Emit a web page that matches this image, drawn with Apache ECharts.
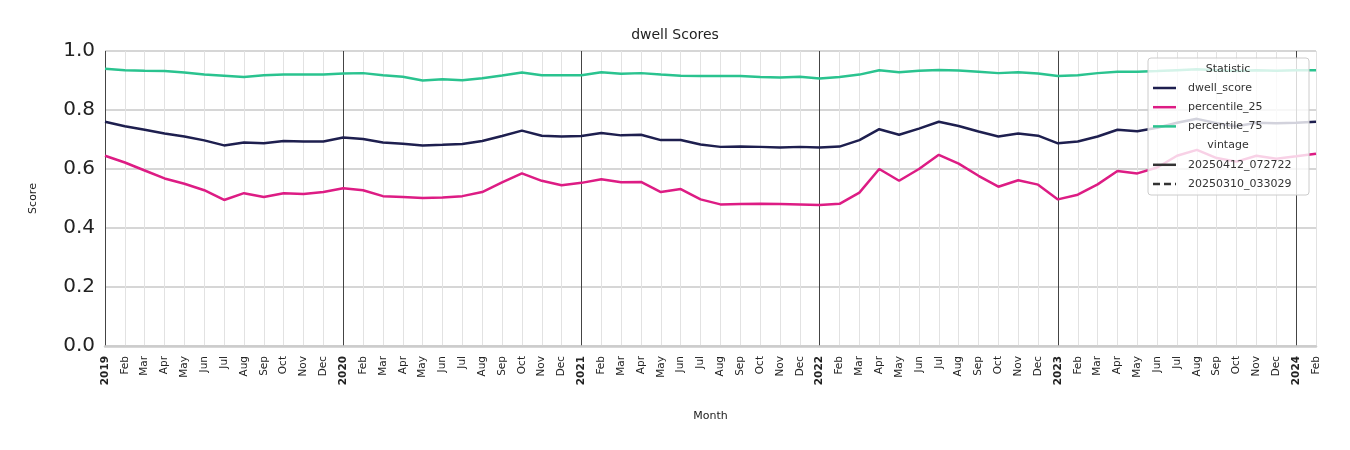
<!DOCTYPE html>
<html><head><meta charset="utf-8">
<script src="https://cdn.jsdelivr.net/npm/echarts@6/dist/echarts.min.js"></script>
<style>body{margin:0}#c{width:1350px;height:450px}</style></head>
<body><div id="c"></div>
<script>
const monthNames=['Jan','Feb','Mar','Apr','May','Jun','Jul','Aug','Sep','Oct','Nov','Dec'];
const categories=[];
for(let y=2019;y<=2024;y++)for(let m=0;m<12;m++){if(y===2024&&m>1)break;categories.push(m===0?String(y):monthNames[m]);}
const dwellScore=[.76,.745,.733,.72,.71,.697,.68,.69,.687,.695,.693,.693,
.707,.702,.69,.686,.68,.682,.685,.695,.712,.73,.713,.71,
.712,.722,.714,.716,.698,.698,.683,.675,.676,.675,.673,.675,
.673,.676,.698,.735,.716,.737,.76,.746,.727,.71,.72,.713,
.687,.693,.71,.733,.728,.74,.757,.77,.755,.745,.757,.755,
.757,.76];
const percentile25=[.645,.622,.595,.568,.55,.528,.495,.518,.505,.518,.515,.522,
.535,.528,.508,.505,.502,.503,.508,.522,.555,.585,.56,.545,
.553,.565,.555,.556,.522,.532,.497,.48,.481,.482,.481,.48,
.478,.482,.52,.6,.56,.6,.648,.618,.577,.54,.562,.547,
.497,.513,.548,.593,.585,.605,.645,.665,.637,.625,.645,.635,
.643,.652];
const percentile75=[.94,.935,.933,.932,.927,.92,.916,.912,.918,.92,.92,.92,
.924,.925,.918,.913,.9,.904,.901,.908,.917,.927,.918,.918,
.918,.928,.923,.925,.92,.916,.915,.915,.915,.912,.91,.913,
.907,.912,.92,.935,.928,.933,.936,.934,.93,.925,.928,.924,
.915,.918,.925,.93,.93,.932,.935,.938,.935,.932,.935,.933,
.935,.935];
const yTicks=['0.0','0.2','0.4','0.6','0.8','1.0'];
const colors={dwell:'#1e1f4f',p25:'#dd1c84',p75:'#2ac38f'};
const ch=echarts.init(document.getElementById('c'));
const gridColors=['#444'].concat(Array(11).fill('#e2e2e2'));
const mk=(name,data,color)=>({name,type:'line',data,symbol:'none',lineStyle:{color,width:2.5},itemStyle:{color},z:3});
const lx=1148,ly=58;
const legendItems=[['dwell_score',colors.dwell,false],['percentile_25',colors.p25,false],['percentile_75',colors.p75,false],['vintage',null,false],['20250412_072722','#333',false],['20250310_033029','#333',true]];
const graphics=[{type:'rect',shape:{x:lx,y:ly,width:161,height:137,r:3},style:{fill:'rgba(255,255,255,0.8)',stroke:'#ccc',lineWidth:1},z:10},
{type:'text',style:{x:lx+80,y:ly+11,text:'Statistic',fill:'#333',font:'11px "DejaVu Sans"',align:'center',verticalAlign:'middle'},z:11}];
legendItems.forEach((it,i)=>{const yy=ly+30+i*19.2;
 if(it[1])graphics.push({type:'line',shape:{x1:lx+5,y1:yy,x2:lx+28,y2:yy},style:{stroke:it[1],lineWidth:2.5,lineDash:it[2]?[7,4]:null},z:11});
 graphics.push({type:'text',style:{x:it[1]?lx+40:lx+80,y:yy,text:it[0],fill:'#333',font:'11px "DejaVu Sans"',align:it[1]?'left':'center',verticalAlign:'middle'},z:11});});
ch.setOption({
 animation:false,
 title:{text:'dwell Scores',left:'center',top:23,textStyle:{fontFamily:'DejaVu Sans',fontSize:14,fontWeight:'normal',color:'#222'}},
 grid:{left:105,right:34,top:51,bottom:104},
 xAxis:{type:'category',data:categories,boundaryGap:false,name:'Month',nameLocation:'middle',nameGap:65,
  nameTextStyle:{fontFamily:'DejaVu Sans',fontSize:11,color:'#222'},
  axisLine:{show:true,lineStyle:{color:'#ccc',width:2.5}},axisTick:{show:false},
  axisLabel:{interval:0,rotate:90,fontFamily:'DejaVu Sans',fontSize:10.5,color:'#222',margin:10,
   formatter:v=>/^\d{4}$/.test(v)?'{b|'+v+'}':v,rich:{b:{fontWeight:'bold',fontSize:10.5,color:'#222',fontFamily:'DejaVu Sans'}}},
  splitLine:{show:true,interval:0,lineStyle:{color:gridColors,width:1}}},
 yAxis:{type:'value',min:0,max:1,interval:0.2,name:'Score',nameLocation:'middle',nameGap:66,
  nameTextStyle:{fontFamily:'DejaVu Sans',fontSize:11,color:'#222'},
  axisLine:{show:false},axisTick:{show:false},
  axisLabel:{fontFamily:'DejaVu Sans',fontSize:20,color:'#222',margin:10,formatter:v=>yTicks[Math.round(v*5)]},
  splitLine:{lineStyle:{color:'#c8c8c8',width:1.5}}},
 series:[mk('dwell_score',dwellScore,colors.dwell),mk('percentile_25',percentile25,colors.p25),mk('percentile_75',percentile75,colors.p75)],
 graphic:graphics
});
</script></body></html>
